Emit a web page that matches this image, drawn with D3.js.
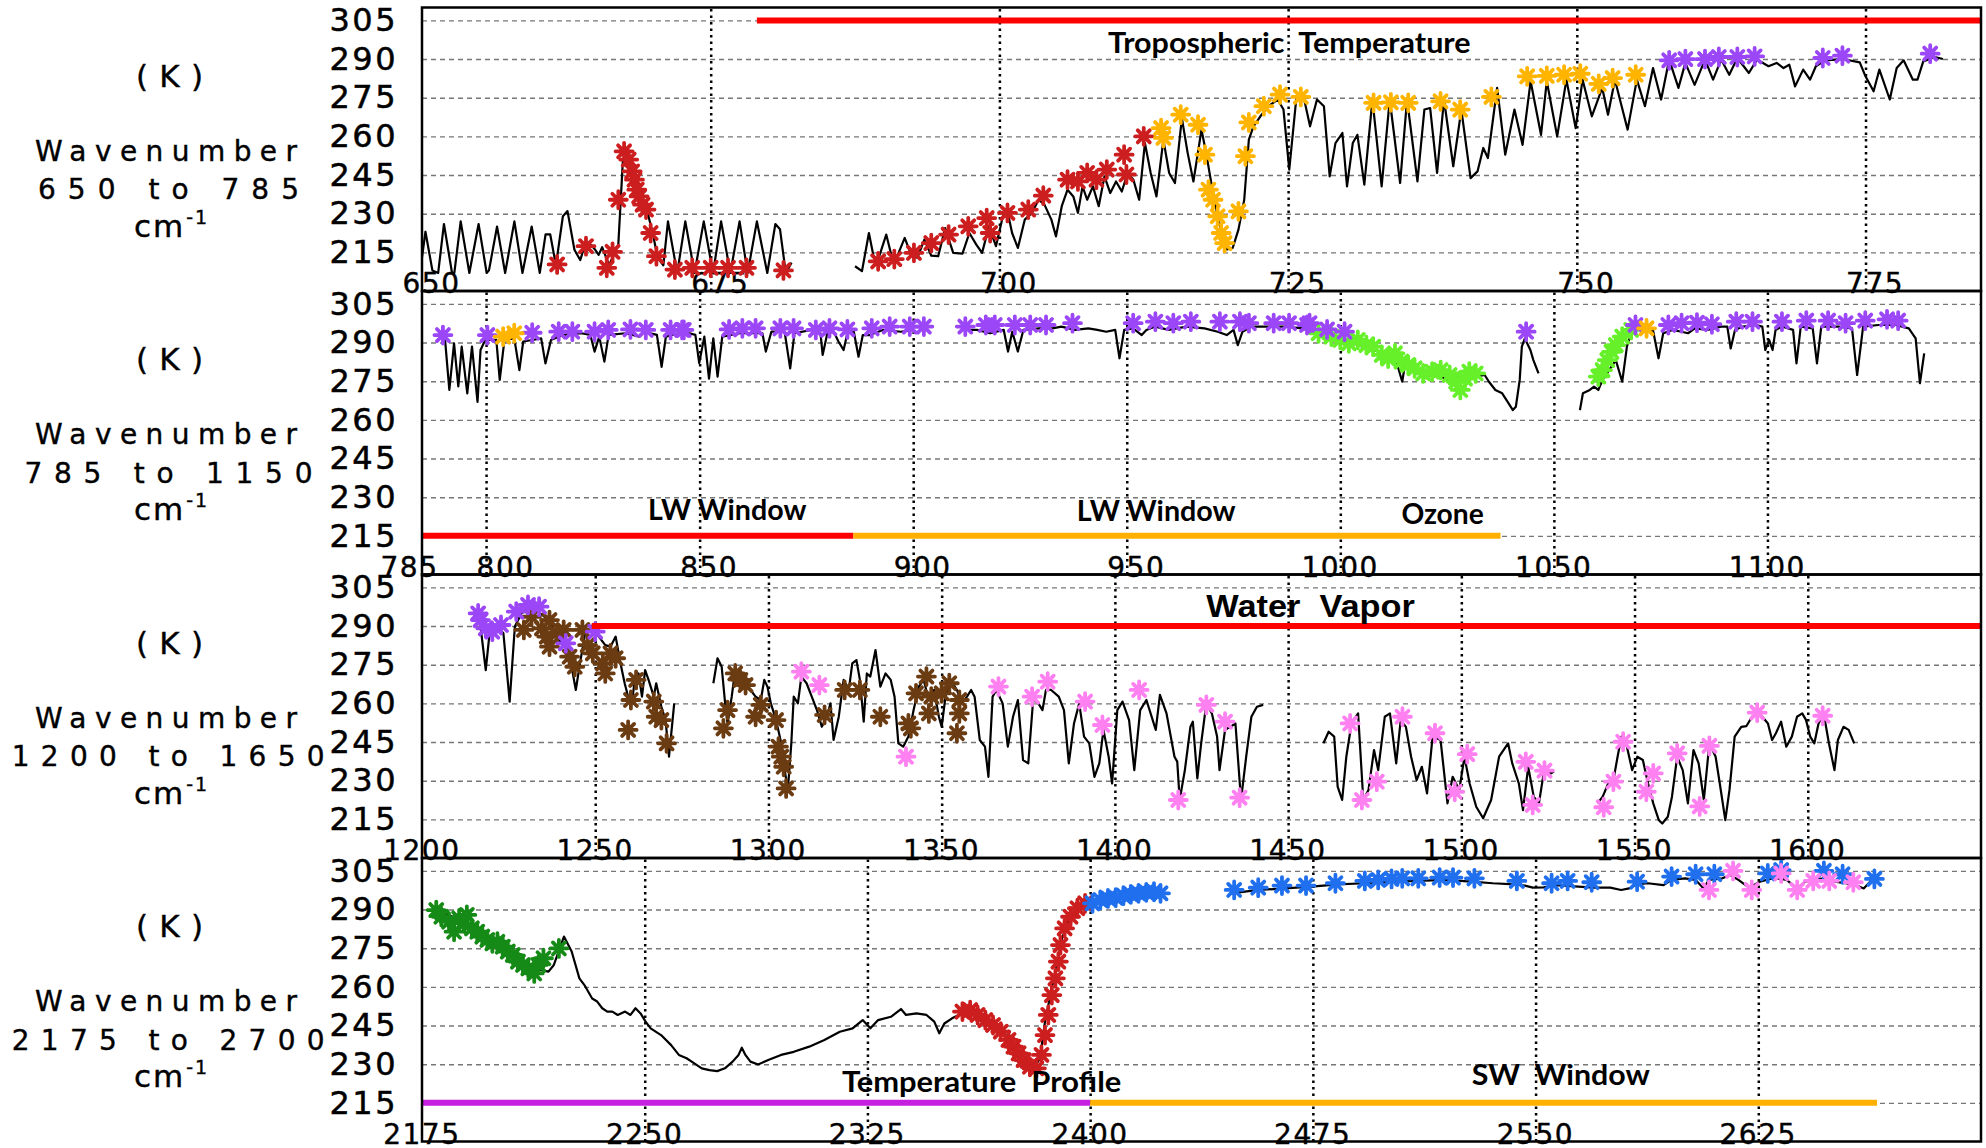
<!DOCTYPE html>
<html>
<head>
<meta charset="utf-8">
<script src="https://cdn.jsdelivr.net/npm/d3@7"></script>
<style>
  body { margin: 0; background: #fff; }
  text { white-space: pre; }
</style>
</head>
<body>
<svg id="chart"></svg>
<script>
// Shared temperature axis (K)
const tempTicks = [215, 230, 245, 260, 275, 290, 305];
const tempDomain = [200, 310];

// ---------- Panel 1: 650 - 785 cm-1 ----------
const p1Range = [650, 785];
const p1Ticks = [650, 675, 700, 725, 750, 775];
const p1Line = [
  [[650.0,213],[650.3,223],[650.9,208],[651.4,207],[651.9,226],[652.6,207],[652.8,207],[653.35,227],[654.1,207],[654.9,226],
   [655.6,207],[655.8,208],[656.5,225],[657.2,207],[658.0,227],[658.7,207],[659.5,225],[660.2,207],[660.7,222],[661.1,222],
   [661.6,210],[662.2,229],[662.6,231],[663.2,216],[663.7,212],[664.2,219],[664.6,218],[665.0,216],[665.3,214],[665.6,217],
   [666.2,210],[666.7,215],[667.0,218],[667.4,251],[667.8,253],[668.3,247],[669.0,238],[669.5,231],[670.0,222],[670.4,213],
   [670.9,210],[671.3,227],[672.1,207],[672.8,227],[673.6,207],[674.4,227],[675.2,207],[675.9,227],[676.7,207],[677.5,227],
   [678.2,207],[679.0,227],[679.9,207],[680.6,226],[681.0,224],[681.5,207],[682.0,211]],
  [[687.5,209.6],[688.1,207.7],[688.7,222.5],[689.1,213.5],[689.5,212.2],[690.2,221.9],[690.7,212.9],[691.2,214],[691.8,220.6],
   [692.4,213.5],[692.9,212.9],[693.5,219.9],[694.1,213.7],[694.7,213.5],[695.3,224.4],[696.0,214.8],[696.8,214.5],[697.4,222.5],
   [698.0,218],[698.5,214.8],[699.1,225.1],[699.7,217.4],[700.3,229],[700.7,230.9],[701.1,222.5],[701.6,216.7],[702.2,227.7],
   [702.8,230.3],[703.4,235.4],[703.9,233.5],[704.5,227.7],[704.9,221.2],[705.4,232.9],[705.9,239.3],[706.4,236.7],[706.8,230.3],
   [707.2,240.6],[707.6,235.4],[708.1,240.6],[708.6,232.9],[709.1,244.5],[709.6,238],[710.1,242.5],[710.6,238.6],[711.1,245.8],
   [711.6,243.2],[712.1,235.4],[712.6,257.4],[713.1,245.8],[713.6,236.7],[714.2,258.7],[714.7,245.8],[715.2,241.9],[715.8,267.1],
   [716.3,253.6],[716.8,242.5],[717.5,262.6],[717.9,253.6],[718.4,240.6],[718.9,229],[719.4,219.9],[719.7,216.1],[720.2,216.7],
   [720.7,223.8],[721.2,235.4],[721.6,258.7],[722.0,263.9],[722.6,267.8],[723.3,271.7],[724.1,274.3],[724.6,270.4],[725.1,247.1],
   [725.7,274.3],[726.3,276.2],[726.9,263.9],[727.5,274.3],[728.1,271.7],[728.6,244.5],[729.1,257.4],[729.7,261.3],[730.1,240.6],
   [730.6,257.4],[731.0,260.6],[731.6,241.3],[732.3,274.3],[733.1,240.6],[733.8,274.3],[734.7,241.9],[735.3,274.3],[736.2,242.5],
   [736.8,270.4],[737.3,271],[737.9,245.8],[738.5,274.3],[739.3,248.4],[740.0,270.4],[740.8,243.8],[741.4,246.4],[741.9,255.5],
   [742.3,251.6],[743.1,278.8],[743.8,252.9],[744.6,270.4],[745.3,256.7],[746.0,281.4],[746.9,260.6],[747.4,281.4],[748.3,260],
   [749.1,282],[749.9,263.2],[750.5,282],[751.3,267.8],[752.2,278.8],[752.7,268.4],[753.3,282],[754.4,262.6],[755.2,282],
   [755.9,271.7],[756.6,286.5],[757.3,274.3],[758.0,289.8],[758.8,278.8],[759.4,288.5],[760.2,280],[761.1,289.8],[761.8,282],
   [762.5,289.8],[763.2,283.9],[763.9,290.4],[764.9,284.6],[765.6,289.8],[766.6,287.2],[767.3,288.5],[767.9,286.5],[768.4,287.8],
   [768.9,279.4],[769.6,285.9],[770.2,282],[770.7,287.2],[771.5,289.5],[773.0,290],[774.5,288.7],[775.0,283.3],[775.7,277.5],
   [776.2,285.9],[777.1,274.3],[777.7,286.5],[778.3,289.5],[779.1,282],[779.5,282],[780.0,289.1],[781.0,290.8],[781.7,290]]
];
const p1Red = [[661.7,210.3],[664.2,217.4],[666.0,209],[666.5,215.2],[667.0,235.4],[667.5,254.2],[667.9,251],[668.2,246.4],
  [668.4,243.2],[668.6,239.3],[668.8,236.7],[669.1,233.5],[669.4,231.6],[669.8,222.5],[670.3,213.5],[671.9,208.3],[673.4,209],
  [675.0,209],[676.5,209],[678.1,209],[681.3,208],[689.5,211.5],[690.9,212.4],[692.6,214.8],[694.1,218.6],[695.6,221.9],
  [697.3,225.1],[698.9,228.3],[699.2,222.5],[700.7,230.3],[702.5,231.6],[703.8,237],[705.9,243.2],[706.8,242.5],[707.6,245.8],
  [708.4,243.2],[709.3,247.1],[710.8,252.9],[711.0,245.2],[712.5,260]];
const p1Orange = [[714.0,263.2],[714.2,259.4],[715.7,268.4],[717.2,264.5],[717.8,252.9],[718.1,239.3],[718.5,235.4],[718.9,229],
  [719.2,222.5],[719.5,218.6],[720.7,230.9],[721.3,252.3],[721.6,265.4],[722.9,271.7],[724.3,276.2],[726.1,275.3],[732.4,273],
  [733.9,273.2],[735.4,273],[738.2,273.6],[739.9,270.4],[742.6,275.3],[745.7,283.3],[747.4,283.5],[748.9,283.9],[750.3,284.3],
  [751.9,280.4],[753.1,282.6],[755.1,283.9]];
const p1Purple = [[758.0,289.5],[759.4,290],[761.1,290],[762.3,290.8],[763.9,290.8],[765.4,291],[771.3,290.4],[773.0,291.3],[780.6,292.1]];
const p1Bands = [[679, 785, 305, "red"]];
const p1Notes = [["Tropospheric  Temperature", 709.4, 740.8, 292.3]];

// ---------- Panel 2: 785 - 1150 cm-1 ----------
const p2Range = [785, 1150];
const p2Ticks = [785, 800, 850, 900, 950, 1000, 1050, 1100];
const p2Line = [
  [[790.4,291],[791.4,271.6],[792.5,289.7],[793.5,273],[794.3,288.4],[795.6,270.3],[796.7,288.4],[798.0,267],[798.7,287.1],
   [799.8,291],[800.8,291],[802.4,291],[803.2,275.5],[804.3,291],[806.6,291.6],[807.8,279.3],[808.7,290.4],[810.8,291],
   [812.9,291.6],[813.9,281.9],[815.2,291],[818.1,293],[822.3,293.6],[824.4,293],[825.4,286.5],[826.5,292.3],[827.7,282.6],
   [828.7,293],[832.7,293.6],[835.9,292.3],[836.9,294.2],[840.0,293],[841.1,280.6],[842.1,292.3],[846.3,294.2],[849.0,293],
   [849.9,282],[851.1,292.3],[852.2,276],[853.2,291.6],[854.2,276.8],[855.3,292.3],[859.5,293.6],[864.7,293.6],[865.5,286.5],
   [866.8,294.2],[869.9,294.2],[871.2,280],[872.2,293.6],[876.2,294.9],[878.3,293.6],[878.8,285.2],[879.9,293.6],[881.4,294.2],
   [882.5,290.4],[883.7,287.1],[884.6,293.6],[886.1,294.2],[887.2,284.5],[888.2,292.9],[889.8,292.9],[892.9,294.9],[897.1,294.2],
   [900.2,294.9]],
  [[911.7,294.9],[914.9,294.9],[918.0,293.6],[921.2,294.9],[922.2,286.5],[923.2,294.2],[924.5,286.5],[925.8,294.9],[929.5,295.5],
   [932.6,295.5],[934.7,296.2],[937.9,294.9],[941.0,295.5],[943.1,294.9],[945.2,294.2],[947.3,294.9],[948.3,283.9],[949.4,294.9],
   [951.5,295.5],[953.5,292.9],[954.6,294.9],[956.7,296.2],[959.8,294.9],[964.0,296.2],[968.2,295.5],[971.3,294.2],[973.4,292.9],
   [975.0,294.9],[976.0,289],[977.1,294.2],[979.2,296.2],[982.8,296.2],[987.0,296.2],[991.2,295.5],[994.9,293.6],[996.9,291.6],
   [1000.0,291],[1003.0,289.7],[1006.1,287.8],[1009.2,286.5],[1011.2,283.2],[1012.8,284.5],[1014.5,274.8],[1015.3,283.2],
   [1017.4,278.7],[1018.9,279.3],[1020.5,276.8],[1022.5,278.7],[1024.6,275.5],[1026.6,276.8],[1029.7,276.8],[1031.7,276.8],
   [1033.8,277.4],[1034.8,274.8],[1036.3,271.6],[1037.9,270.3],[1039.4,266.4],[1040.4,263.8],[1041.1,265.1],[1042.0,275.5],
   [1042.5,288.4],[1043.2,291.6],[1044.5,287.1],[1045.2,283.2],[1046.4,278]],
  [[1056.1,263.8],[1056.8,270.3],[1058.4,271.6],[1059.4,272.9],[1060.4,271.6],[1061.4,275.5],[1064.5,283.2],[1066.0,274.8],
   [1067.1,288.4],[1068.1,293.6],[1069.6,294.9],[1071.7,294.9],[1073.2,294.9],[1074.5,283.9],[1075.6,293.6],[1077.8,294.9],
   [1079.9,294.2],[1081.4,293.6],[1083.0,295.5],[1086.0,294.9],[1089.1,296.2],[1090.6,296.2],[1091.4,287.7],[1092.4,294.9],
   [1094.2,296.2],[1097.3,296.8],[1098.8,296.2],[1099.5,287.1],[1100.4,291],[1101.2,287.1],[1101.9,294.9],[1103.4,296.2],
   [1106.0,294.9],[1106.8,281.9],[1107.8,296.2],[1110.6,295.5],[1111.6,281.9],[1112.6,296.2],[1116.7,296.2],[1119.8,295.5],
   [1121.0,277.4],[1122.4,296.2],[1126.0,296.8],[1130.0,296.8],[1133.1,295.5],[1134.7,291.6],[1135.7,274.2],[1136.7,285.8]]
];
const p2Purple = [[789.9,292.9],[800.3,292.9],[810.8,293.8],[817.0,294.2],[820.2,294.2],[825.4,294.2],[828.6,294.9],[833.8,295.1],
  [837.4,294.9],[843.2,294.9],[846.3,294.9],[845.9,294.9],[856.9,295.1],[860.0,295.5],[863.1,295.5],[868.9,295.5],[872.0,295.5],
  [877.2,294.9],[880.4,295.5],[884.6,295.1],[890.3,295.5],[894.5,296.2],[899.2,296.2],[902.5,296.2],[912.2,296.2],[917.0,296.8],
  [919.1,296.8],[923.8,296.8],[927.4,296.8],[931.1,296.8],[937.3,297.5],[951.5,297.5],[956.7,298.1],[960.9,297.5],[965.0,298.1],
  [971.8,298.1],[976.5,298.1],[978.6,297.5],[984.4,297.5],[988.0,297.5],[992.2,296.8],[992.8,297.5],[996.9,295.1],[1001.0,294.2],
  [1043.5,294.2],[1069.1,296.8],[1076.8,296.8],[1079.9,297.5],[1083.5,297.7],[1087.0,297.1],[1092.7,298.1],[1096.5,298.1],
  [1103.4,298.1],[1109.1,298.5],[1114.2,298.5],[1118.3,297.5],[1122.9,298.5],[1128.0,299.0],[1130.6,298.5]];
const p2Orange = [[804.0,292.3],[806.6,293.6],[1071.7,295.5]];
const p2Green = [[994.9,293.6],[997.9,292.3],[1000.0,291],[1002.0,289.7],[1004.1,291],[1006.1,289],[1007.7,288.4],[1009.7,285.2],
  [1011.2,283.8],[1012.8,285.8],[1014.3,282.6],[1015.9,281.3],[1017.4,280],[1019.4,278],[1021.5,278.7],[1023.5,279.3],[1025.6,277.4],
  [1027.1,274.8],[1028.1,271.6],[1029.2,276],[1030.2,278.7],[1031.7,278],[1060.4,276.8],[1061.4,279.3],[1062.5,283.2],[1063.5,286.4],
  [1064.5,289],[1066.0,292.3],[1068.1,294.9]];
const p2Bands = [[785, 886, 215, "red"], [886, 1037.5, 215, "orange"]];
const p2Notes = [["LW Window", 837.9, 875.0, 221.1], ["LW Window", 938.3, 975.5, 220.7], ["Ozone", 1014.3, 1033.6, 219.6]];

// ---------- Panel 3: 1200 - 1650 cm-1 ----------
const p3Range = [1200, 1650];
const p3Ticks = [1200, 1250, 1300, 1350, 1400, 1450, 1500, 1550, 1600];
const p3Line = [
  [[1216.9,289.8],[1218.4,272.9],[1219.4,285.9],[1220.6,288.5],[1222.3,289.1],[1223.5,287.2],[1225.3,260.7],[1226.8,289.8],
   [1228.7,294.9],[1230.9,296.9],[1233.1,296.2],[1235.3,293.6],[1237.5,290.4],[1239.0,285.9],[1240.9,282.0],[1242.3,280.7],
   [1244.4,265.2],[1245.6,275.5],[1247.1,287.2],[1249.3,290.4],[1250.7,286.5],[1252.9,282.6],[1254.4,282.0],[1255.9,285.9],
   [1257.3,275.5],[1258.5,267.8],[1259.5,262.6],[1260.6,260.0],[1261.5,270.4],[1262.5,271.6],[1263.5,262.6],[1264.4,272.9],
   [1265.4,269.1],[1266.9,262.6],[1267.6,267.8],[1269.1,258.7],[1270.3,253.5],[1271.3,239.3],[1272.8,260.0]],
  [[1284.1,267.8],[1285.3,277.5],[1286.5,274.2],[1287.5,260.0],[1288.2,252.2],[1289.4,262.6],[1290.4,272.9],[1291.9,270.4],
   [1293.4,267.8],[1294.8,265.2],[1296.3,262.6],[1297.8,261.3],[1298.8,269.1],[1299.7,266.5],[1300.7,260.0],[1302.2,253.5],
   [1303.7,244.5],[1304.7,234.1],[1305.6,226.4],[1306.6,244.5],[1307.3,262.6],[1308.5,260.0],[1309.5,270.4],[1311.0,267.8],
   [1312.5,262.6],[1314.0,257.4],[1315.4,250.9],[1316.9,254.8],[1317.9,260.0],[1318.8,245.8],[1320.3,254.8],[1321.7,269.1],
   [1323.2,265.2],[1324.2,275.5],[1325.4,276.8],[1326.4,269.1],[1327.5,252.9],[1328.4,271.6],[1329.4,270.4],[1330.9,280.7],
   [1332.3,266.5],[1333.8,271.6],[1335.3,269.1],[1336.4,262.6],[1337.5,244.5],[1338.9,243.2],[1340.4,247.1],[1341.9,257.4],
   [1343.4,266.5],[1344.8,269.1],[1346.3,261.3],[1347.8,265.2],[1349.2,254.8],[1350.0,250.9],[1351.1,262.6],[1352.6,269.1],
   [1354.4,265.2],[1355.8,260.0],[1357.3,262.6],[1358.5,265.2],[1359.5,262.6],[1361.0,245.8],[1362.5,243.2],[1363.5,231.5],
   [1364.7,262.6],[1365.8,265.2],[1367.6,260.0],[1369.1,243.2],[1370.6,254.8],[1372.0,261.3],[1373.5,238.0],[1375.0,236.7],
   [1376.4,261.3],[1377.9,260.0],[1379.1,257.4],[1380.1,265.2],[1381.6,265.2],[1383.8,262.6],[1385.3,257.4],[1386.7,236.7],
   [1388.2,252.2],[1389.7,260.0],[1391.1,247.1],[1392.6,244.5],[1394.1,231.5],[1395.5,236.7],[1396.7,249.7],[1398.2,239.3],
   [1399.2,228.9],[1400.7,257.4],[1402.2,260.7],[1404.1,253.5],[1405.6,234.1],[1407.3,257.4],[1409.1,261.3],[1411.8,249.7],
   [1413.0,263.3],[1414.9,256.1],[1417.2,239.3],[1418.0,237.4],[1418.7,222.5],[1420.2,234.1],[1421.8,250.9],[1422.5,252.9],
   [1423.8,230.9],[1424.9,244.5],[1426.4,260.0],[1428.0,256.1],[1429.5,247.1],[1430.2,234.1],[1431.8,249.7],[1433.3,250.9],
   [1434.8,252.2],[1436.4,222.5],[1437.9,239.3],[1439.4,254.8],[1441.0,258.7],[1442.8,259.4]],
  [[1460.2,244.5],[1461.7,249.0],[1463.3,247.1],[1464.3,227.7],[1465.6,222.5],[1466.8,239.3],[1468.3,252.2],[1470.2,256.1],
   [1471.7,222.5],[1473.2,226.4],[1474.8,241.9],[1476.0,234.1],[1477.9,254.8],[1479.4,256.1],[1481.2,236.7],[1482.5,253.5],
   [1484.0,250.9],[1485.5,239.3],[1487.1,230.2],[1488.6,235.4],[1490.1,225.1],[1491.7,247.1],[1494.0,245.8],[1496.0,221.2],
   [1497.5,231.5],[1499.4,226.4],[1500.9,239.3],[1502.4,228.9],[1504.3,219.9],[1506.3,215.4],[1508.6,222.5],[1510.9,239.3],
   [1513.5,244.5],[1514.7,236.7],[1516.6,228.9],[1517.8,218.6],[1519.3,235.4],[1520.9,223.8],[1522.4,221.2],[1523.9,234.1],
   [1525.8,232.8],[1526.7,233.5]],
  [[1539.3,221.2],[1540.8,223.8],[1542.4,228.9],[1543.9,230.2],[1545.1,239.3],[1546.2,247.1],[1547.8,243.2],[1549.3,234.1],
   [1550.8,239.3],[1552.4,238.0],[1553.9,228.9],[1555.4,221.2],[1557.0,214.7],[1558.0,213.4],[1559.6,216.0],[1560.8,223.8],
   [1562.3,239.3],[1563.9,234.1],[1565.4,221.2],[1567.0,241.9],[1568.5,236.7],[1570.0,222.5],[1571.6,244.5],[1573.4,239.3],
   [1574.6,228.9],[1576.2,214.7],[1577.4,226.4],[1578.9,247.1],[1580.8,250.9],[1582.3,251.2],[1583.9,254.8],[1585.4,256.1],
   [1586.9,254.8],[1588.5,252.2],[1589.7,245.8],[1590.8,248.4],[1592.3,252.9],[1593.8,243.2],[1595.4,247.1],[1596.9,254.8],
   [1598.4,256.1],[1599.5,253.5],[1600.7,247.1],[1601.9,244.5],[1603.1,252.2],[1604.6,256.1],[1606.1,244.5],[1607.7,234.1],
   [1608.7,245.8],[1610.3,250.9],[1611.8,249.7],[1613.4,244.5]]
];
const p3Brown = [[1229.4,288.5],[1231.6,293.6],[1234.6,289.1],[1236.8,292.3],[1236.0,285.9],[1236.8,282.0],[1239.0,287.2],
  [1240.9,288.5],[1242.6,278.1],[1244.1,274.2],[1246.3,288.5],[1247.8,282.6],[1249.3,279.4],[1252.2,275.5],[1252.9,271.6],
  [1254.4,279.4],[1255.9,277.5],[1259.5,249.7],[1260.3,261.3],[1261.8,269.1],[1266.9,260.7],[1267.6,254.8],[1269.1,253.5],
  [1270.6,244.5],[1287.0,250.3],[1288.2,257.4],[1290.4,271.6],[1291.9,269.1],[1293.4,267.1],[1296.3,254.8],[1297.8,259.4],
  [1302.2,253.5],[1302.9,243.2],[1303.7,239.3],[1304.4,235.4],[1305.1,227.0],[1316.2,255.5],[1322.0,265.2],[1326.4,265.2],
  [1332.3,254.8],[1340.4,252.2],[1341.1,250.3],[1342.6,263.9],[1345.6,270.4],[1347.0,262.6],[1346.3,256.1],[1350.0,263.9],
  [1352.2,267.8],[1355.1,261.3],[1355.1,256.1],[1354.4,248.4]];
const p3Purple = [[1216.2,294.9],[1216.9,292.3],[1218.4,289.1],[1220.3,287.8],[1222.8,290.4],[1227.2,295.6],[1230.6,298.2],
  [1233.8,297.5],[1241.5,283.3],[1250.0,287.8]];
const p3Pink = [[1309.5,272.3],[1314.7,267.1],[1339.7,239.3],[1366.4,266.5],[1376.1,262.6],[1380.6,268.4],[1391.4,260.7],
  [1396.4,251.6],[1407.0,265.2],[1418.3,222.5],[1426.4,259.4],[1431.8,252.9],[1436.0,223.4],[1467.9,252.2],[1471.3,222.5],
  [1475.6,229.6],[1483.0,254.8],[1492.4,248.4],[1498.1,225.7],[1501.7,240.3],[1518.6,237.3],[1520.6,220.6],[1524.0,233.9],
  [1541.1,219.7],[1543.9,229.6],[1546.7,245.1],[1553.4,225.7],[1555.4,232.8],[1562.3,240.6],[1568.8,220.0],[1571.6,243.5],
  [1585.4,256.4],[1604.3,255.2]];
const p3Bands = [[1249, 1650, 290, "red"]];
const p3Notes = [["Water  Vapor", 1426.4, 1486.6, 293.5]];

// ---------- Panel 4: 2175 - 2700 cm-1 ----------
const p4Range = [2175, 2700];
const p4Ticks = [2175, 2250, 2325, 2400, 2475, 2550, 2625];
const p4Line = [
  [[2179.8,290.5],[2188.4,285.3],[2197.0,278.8],[2203.9,272.4],[2212.5,267.2],[2217.6,265.9],[2219.4,268.5],[2222.8,279.5],
   [2225.4,273.7],[2228.0,263.3],[2229.7,260.7],[2232.3,255.5],[2234.0,254.3],[2235.7,251.7],[2237.4,250.4],[2239.1,250.4],
   [2240.9,249.1],[2243.4,250.4],[2245.2,249.1],[2246.9,251.7],[2248.6,249.7],[2250.3,246.5],[2252.0,243.9],[2255.5,241.3],
   [2258.9,237.4],[2261.5,233.6],[2264.1,232.3],[2266.7,230.3],[2269.2,228.4],[2271.8,227.7],[2274.4,227.3],[2277.0,228.4],
   [2279.6,231.0],[2281.6,233.6],[2282.7,236.4],[2283.9,233.6],[2285.6,231.0],[2288.2,229.9],[2291.6,231.6],[2295.9,233.6],
   [2300.2,234.8],[2305.4,236.8],[2310.5,239.4],[2315.7,242.6],[2320.0,243.9],[2323.4,247.1],[2326.0,243.9],[2328.6,247.1],
   [2332.9,248.4],[2336.3,251.4],[2338.0,249.1],[2341.5,249.7],[2344.9,249.1],[2347.5,246.5],[2349.2,242.0],[2350.9,245.8],
   [2353.5,247.8],[2356.1,249.3],[2360.4,249.1],[2365.6,245.8],[2370.7,242.6],[2374.2,237.4],[2377.6,232.3],[2381.1,228.4],
   [2383.1,232.3],[2384.8,246.5],[2386.6,256.8],[2388.8,268.5],[2390.5,278.8],[2393.1,286.6],[2396.5,289.8],[2400.0,291.8],
   [2405.1,294.3],[2412.0,295.6],[2422.3,296.9]],
  [[2447.6,296.3],[2456.6,297.6],[2465.6,298.2],[2474.5,298.9],[2483.5,299.8],[2492.5,300.2],[2501.5,300.8],[2510.5,301.1],
   [2519.5,301.5],[2528.5,300.8],[2535.6,300.2],[2542.8,299.8],[2546.4,299.3],[2549.1,298.5],[2552.7,298.6],[2557.2,299.5],
   [2564.4,298.9],[2569.8,298.5],[2575.2,298.5],[2578.8,297.6],[2581.5,298.2],[2584.2,299.8],[2587.8,300.2],[2593.1,299.5],
   [2595.8,301.5],[2600.3,302.1],[2603.9,301.5],[2606.6,298.2],[2608.4,301.5],[2612.9,302.1],[2615.6,303.4],[2618.3,301.5],
   [2621.9,298.5],[2625.5,300.8],[2629.1,301.9],[2631.8,302.1],[2634.5,301.5],[2638.1,298.2],[2640.8,300.8],[2643.5,301.5],
   [2647.1,302.1],[2650.7,300.8],[2654.3,300.2],[2657.8,299.5],[2660.5,298.2],[2663.2,301.5],[2665.0,302.1]]
];
const p4Green = [[2179.8,289.8],[2181.5,287.2],[2184.1,285.3],[2185.8,281.4],[2187.5,286.6],[2189.3,284.6],[2190.1,287.9],
  [2191.8,282.7],[2193.6,281.4],[2195.3,279.5],[2197.0,278.2],[2198.7,276.9],[2200.4,277.5],[2202.2,275.6],[2203.9,273.7],
  [2205.6,272.4],[2207.3,269.8],[2209.0,268.5],[2210.8,267.2],[2212.8,265.2],[2214.2,268.5],[2215.9,271.1],[2221.1,274.9]];
const p4Red = [[2357.0,250.4],[2359.6,251.0],[2362.1,249.1],[2364.7,247.1],[2367.3,245.2],[2369.9,242.6],[2372.5,239.4],
  [2374.2,236.8],[2375.9,234.2],[2377.6,231.6],[2379.7,229.0],[2381.9,228.4],[2383.6,233.6],[2384.8,241.3],[2385.9,249.1],
  [2387.1,256.8],[2388.3,263.3],[2389.3,269.8],[2390.0,276.2],[2391.4,282.7],[2393.4,287.2],[2395.7,290.5],[2398.3,292.4]];
const p4Blue = [[2400.8,292.4],[2403.4,293.7],[2406.0,294.3],[2408.6,294.6],[2411.2,295.4],[2413.7,295.9],[2416.3,296.3],
  [2418.9,296.7],[2421.5,296.9],[2423.7,296.3],[2448.5,297.6],[2456.6,298.5],[2464.6,299.3],[2472.7,299.3],[2482.6,300.2],
  [2492.5,301.1],[2497.0,301.5],[2501.5,301.9],[2505.1,302.1],[2510.5,302.1],[2517.7,302.4],[2522.2,302.4],[2529.4,302.1],
  [2543.7,301.1],[2555.4,300.2],[2560.8,301.1],[2568.9,300.6],[2584.2,300.8],[2595.8,302.8],[2603.9,303.7],[2610.2,303.7],
  [2628.2,304.0],[2632.7,305.3],[2647.1,305.0],[2653.4,303.7],[2664.1,301.9]];
const p4Pink = [[2608.4,297.6],[2616.5,305.0],[2622.8,297.6],[2632.7,304.0],[2638.1,297.6],[2643.5,301.1],[2648.9,301.1],[2657.0,300.6]];
const p4Bands = [[2175, 2400, 215, "magenta"], [2400, 2665, 215, "orange"]];
const p4Notes = [["Temperature  Profile", 2316.4, 2410.5, 219.2], ["SW  Window", 2528.5, 2588.5, 221.9]];

const rangeLabels = ["650 to 785", "785 to 1150", "1200 to 1650", "2175 to 2700"];

// ---------- layout / styles ----------
const palette = {
  red: "#ff0000", orange: "#ffb000", magenta: "#c51fe0",
  starRed: "#cc1e1e", starOrange: "#ffb400", purple: "#9b47f7", green: "#66f02a",
  darkGreen: "#168a16", brown: "#6b3b12", pink: "#ff80f0", blue: "#1f6fee"
};
const width = 1986, height = 1148;
const plotLeft = 422, plotRight = 1981, panelH = 283.5;
const panelTops = [7.5, 291, 574.5, 858];
const rangeLayout = [[38, 261], [24.5, 288], [11.7, 313], [11.7, 313]];
const labelShift = {785: -22, 800: 10};

const panels = [
  {range: p1Range, ticks: p1Ticks, line: p1Line, bands: p1Bands, notes: p1Notes, noteFont: "lato",
   stars: [[p1Red, "starRed"], [p1Orange, "starOrange"], [p1Purple, "purple"]]},
  {range: p2Range, ticks: p2Ticks, line: p2Line, bands: p2Bands, notes: p2Notes, noteFont: "lato",
   stars: [[p2Green, "green"], [p2Purple, "purple"], [p2Orange, "starOrange"]]},
  {range: p3Range, ticks: p3Ticks, line: p3Line, bands: p3Bands, notes: p3Notes, noteFont: "arial",
   stars: [[p3Brown, "brown"], [p3Purple, "purple"], [p3Pink, "pink"]]},
  {range: p4Range, ticks: p4Ticks, line: p4Line, bands: p4Bands, notes: p4Notes, noteFont: "lato",
   stars: [[p4Green, "darkGreen"], [p4Red, "starRed"], [p4Blue, "blue"], [p4Pink, "pink"]]}
];

const svg = d3.select("#chart")
  .attr("width", width)
  .attr("height", height)
  .style("background", "#fff");

// 8-armed asterisk marker
function starPath(r) {
  const a = r * 0.7071;
  return `M${-r},0L${r},0M0,${-r}L0,${r}M${-a},${-a}L${a},${a}M${-a},${a}L${a},${-a}`;
}

panels.forEach((p, i) => {
  const g = svg.append("g").attr("transform", `translate(0,${panelTops[i]})`);

  const x = d3.scaleLinear().domain(p.range).range([plotLeft, plotRight]);
  const y = d3.scaleLinear().domain(tempDomain).range([panelH, 0]);

  // Horizontal grid (dashed grey)
  g.append("g")
    .attr("transform", `translate(${plotLeft},0)`)
    .call(d3.axisLeft(y).tickValues(tempTicks).tickSize(-(plotRight - plotLeft)).tickFormat(""))
    .call(a => a.select(".domain").remove())
    .call(a => a.selectAll("line").attr("stroke", "#777").attr("stroke-width", 1.4).attr("stroke-dasharray", "5,4"));

  // Y labels
  g.append("g")
    .attr("transform", `translate(${plotLeft},0)`)
    .call(d3.axisLeft(y).tickValues(tempTicks).tickSize(0).tickPadding(24))
    .call(a => a.select(".domain").remove())
    .call(a => a.selectAll("text")
      .attr("font-family", "DejaVu Sans, sans-serif")
      .attr("font-size", 32)
      .attr("letter-spacing", 2.5)
      .attr("stroke", "#000")
      .attr("stroke-width", 0.5)
      .attr("fill", "#000"));

  // X labels (sit on the bottom border)
  g.append("g")
    .attr("transform", `translate(0,${panelH})`)
    .call(d3.axisBottom(x).tickValues(p.ticks).tickSize(0).tickFormat(d3.format("d")))
    .call(a => a.select(".domain").remove())
    .call(a => a.selectAll("text")
      .attr("font-family", "DejaVu Sans, sans-serif")
      .attr("font-size", 28)
      .attr("letter-spacing", 1.5)
      .attr("stroke", "#000")
      .attr("stroke-width", 0.4)
      .attr("fill", "#000")
      .attr("text-anchor", "end")
      .attr("dy", 0)
      .attr("y", 2)
      .attr("x", d => 38 + (i === 1 && labelShift[d] ? labelShift[d] : 0)));

  // Vertical grid (black dotted)
  g.append("g")
    .attr("transform", `translate(0,${panelH})`)
    .call(d3.axisBottom(x).tickValues(p.ticks.filter(t => t > p.range[0])).tickSize(-panelH).tickFormat(""))
    .call(a => a.select(".domain").remove())
    .call(a => a.selectAll("line").attr("stroke", "#000").attr("stroke-width", 2.5).attr("stroke-dasharray", "2.5,4"));

  // Spectrum line
  const line = d3.line().x(d => x(d[0])).y(d => y(d[1]));
  g.append("g").selectAll("path")
    .data(p.line)
    .join("path")
    .attr("d", line)
    .attr("fill", "none")
    .attr("stroke", "#000")
    .attr("stroke-width", 2.2)
    .attr("stroke-linejoin", "round");

  // Selected channels (asterisks)
  p.stars.forEach(([pts, col]) => {
    g.append("g").selectAll("path")
      .data(pts)
      .join("path")
      .attr("transform", d => `translate(${x(d[0])},${y(d[1])})`)
      .attr("d", starPath(8.5))
      .attr("fill", "none")
      .attr("stroke", palette[col])
      .attr("stroke-width", 3.8)
      .attr("stroke-linecap", "round");
  });

  // Coloured band bars
  g.append("g").selectAll("line")
    .data(p.bands)
    .join("line")
    .attr("x1", d => x(d[0]))
    .attr("x2", d => x(d[1]))
    .attr("y1", d => y(d[2]))
    .attr("y2", d => y(d[2]))
    .attr("stroke", d => palette[d[3]])
    .attr("stroke-width", 6);

  // Band annotations
  g.append("g").selectAll("text")
    .data(p.notes)
    .join("text")
    .attr("x", d => x(d[1]))
    .attr("y", d => y(d[3]))
    .attr("textLength", d => x(d[2]) - x(d[1]))
    .attr("lengthAdjust", "spacingAndGlyphs")
    .attr("font-family", p.noteFont === "arial" ? "Liberation Sans, Arial, sans-serif" : "Lato, Open Sans, sans-serif")
    .attr("font-weight", 700)
    .attr("font-size", p.noteFont === "arial" ? 31 : 28)
    .attr("fill", "#000")
    .text(d => d[0]);

  // Frame
  g.append("rect")
    .attr("x", plotLeft)
    .attr("y", 0)
    .attr("width", plotRight - plotLeft)
    .attr("height", panelH)
    .attr("fill", "none")
    .attr("stroke", "#000")
    .attr("stroke-width", 2.5);

  // Left side labels
  const lab = g.append("g")
    .attr("font-family", "DejaVu Sans, sans-serif")
    .attr("fill", "#000")
    .attr("stroke", "#000")
    .attr("stroke-width", 0.4);
  lab.append("text")
    .attr("x", 136).attr("y", 79)
    .attr("font-size", 31)
    .attr("textLength", 67).attr("lengthAdjust", "spacing")
    .text("(K)");
  lab.append("text")
    .attr("x", 35).attr("y", 153)
    .attr("font-size", 28)
    .attr("textLength", 262).attr("lengthAdjust", "spacing")
    .text("Wavenumber");
  lab.append("text")
    .attr("x", rangeLayout[i][0]).attr("y", 191.5)
    .attr("font-size", 28)
    .attr("textLength", rangeLayout[i][1]).attr("lengthAdjust", "spacing")
    .text(rangeLabels[i]);
  const cm = lab.append("text")
    .attr("x", 134).attr("y", 229)
    .attr("font-size", 31)
    .attr("letter-spacing", 2);
  cm.append("tspan").text("cm");
  cm.append("tspan").attr("dy", -13).attr("dx", 1).attr("font-size", 19).text("-1");
});
</script>
</body>
</html>
